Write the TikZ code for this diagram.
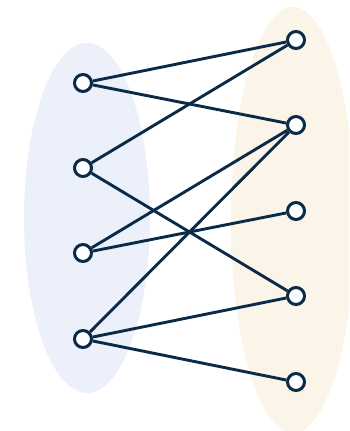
\documentclass[tikz,border=0pt]{standalone}
\definecolor{navy}{HTML}{0A2B48}
\definecolor{lblue}{HTML}{ECF0FB}
\definecolor{cream}{HTML}{FBF4E8}
\begin{document}
\begin{tikzpicture}[x=1pt,y=-1pt,
  vert/.style={circle,draw=navy,fill=white,line width=3pt,minimum size=17pt,inner sep=0pt},
  edge/.style={draw=navy,line width=2.9pt}]
\useasboundingbox (0,0) rectangle (349,431);
\begin{scope}
\clip (0,0) rectangle (349,431);
\fill[lblue] (87,218) ellipse [x radius=63, y radius=175];
\fill[cream] (293,220) ellipse [x radius=62, y radius=213];
\end{scope}
\node[vert] (a1) at (83,83) {};
\node[vert] (a2) at (83,168) {};
\node[vert] (a3) at (83,253) {};
\node[vert] (a4) at (83,339) {};
\node[vert] (b1) at (296,40) {};
\node[vert] (b2) at (296,125) {};
\node[vert] (b3) at (296,211) {};
\node[vert] (b4) at (296,296) {};
\node[vert] (b5) at (296,382) {};
\foreach \u/\v in {a1/b1,a1/b2,a2/b1,a2/b4,a3/b2,a3/b3,a4/b2,a4/b4,a4/b5}
  \draw[edge] (\u) -- (\v);
\end{tikzpicture}
\end{document}
